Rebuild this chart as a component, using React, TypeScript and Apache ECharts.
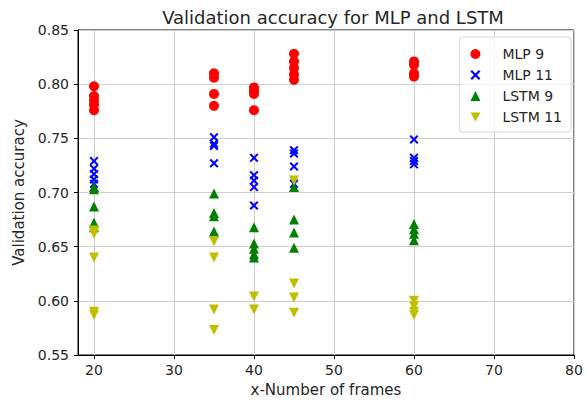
import React, { useEffect, useRef } from "react";
import * as echarts from "echarts";

const frames = [20, 35, 40, 45, 60];
const mlp9: number[][] = [
  [0.798, 0.789, 0.785, 0.776, 0.781],
  [0.81, 0.806, 0.791, 0.78],
  [0.797, 0.794, 0.791, 0.776],
  [0.828, 0.821, 0.815, 0.809, 0.804],
  [0.821, 0.818, 0.81, 0.807],
];
const mlp11: number[][] = [
  [0.729, 0.722, 0.717, 0.712, 0.708],
  [0.751, 0.745, 0.743, 0.727],
  [0.732, 0.716, 0.711, 0.705, 0.688],
  [0.739, 0.736, 0.724, 0.708],
  [0.749, 0.732, 0.729, 0.726],
];
const lstm9: number[][] = [
  [0.705, 0.703, 0.687, 0.672, 0.668],
  [0.699, 0.681, 0.678, 0.664],
  [0.668, 0.653, 0.648, 0.643, 0.64],
  [0.705, 0.675, 0.663, 0.649],
  [0.671, 0.666, 0.662, 0.656],
];
const lstm11: number[][] = [
  [0.665, 0.662, 0.64, 0.59, 0.587],
  [0.655, 0.64, 0.592, 0.573],
  [0.604, 0.592],
  [0.711, 0.616, 0.603, 0.589],
  [0.6, 0.595, 0.59, 0.587],
];
const seriesNames = ["MLP 9", "MLP 11", "LSTM 9", "LSTM 11"];
const yTicks = [0.55, 0.6, 0.65, 0.7, 0.75, 0.8, 0.85];
const xTicks = [20, 30, 40, 50, 60, 70, 80];

const toPoints = (vals: number[][]) =>
  frames.flatMap((f, i) => vals[i].map((v) => [f, v]));

const X_SYMBOL =
  "path://M0,1.6L1.6,0L5,3.4L8.4,0L10,1.6L6.6,5L10,8.4L8.4,10L5,6.6L1.6,10L0,8.4L3.4,5Z";
const DOWN_TRI = "path://M0,0L10,0L5,9Z";
const FONT = "DejaVu Sans";
const TXT = "#262626";

export default function App() {
  const ref = useRef<HTMLDivElement>(null);
  useEffect(() => {
    if (!ref.current) return;
    const chart = echarts.init(ref.current, undefined, { renderer: "svg" });
    const mk = (
      name: string,
      vals: number[][],
      symbol: string,
      size: number,
      color: string
    ) => ({
      name,
      type: "scatter",
      data: toPoints(vals),
      symbol,
      symbolSize: size,
      itemStyle: { color, opacity: 1 },
      emphasis: { disabled: true },
    });
    chart.setOption({
      animation: false,
      textStyle: { fontFamily: FONT },
      title: {
        text: "Validation accuracy for MLP and LSTM",
        left: 328,
        top: 3,
        textAlign: "center",
        textStyle: { fontFamily: FONT, fontSize: 18, fontWeight: "normal", color: TXT },
      },
      grid: {
        left: 78,
        right: 13,
        top: 30,
        bottom: 48,
        show: true,
        borderColor: "#000",
        borderWidth: 1,
        backgroundColor: "#fff",
      },
      legend: {
        orient: "vertical",
        right: 16,
        top: 37,
        itemGap: 7,
        itemWidth: 10,
        itemHeight: 10,
        padding: [10, 9, 8, 11],
        borderColor: "#d6d6d6",
        borderWidth: 1,
        borderRadius: 3,
        backgroundColor: "rgba(255,255,255,0.8)",
        textStyle: { fontFamily: FONT, fontSize: 14, color: TXT, padding: [0, 0, 0, 17], lineHeight: 14 },
        data: seriesNames,
      },
      xAxis: {
        type: "value",
        min: 18,
        max: xTicks[xTicks.length - 1],
        minInterval: 10,
        maxInterval: 10,
        name: "x-Number of frames",
        nameLocation: "middle",
        nameGap: 27,
        nameTextStyle: { fontFamily: FONT, fontSize: 15, color: TXT },
        axisLine: { show: true, lineStyle: { color: "#000" } },
        axisTick: { show: true, length: 4, lineStyle: { color: "#000" } },
        axisLabel: {
          showMinLabel: false,
          fontFamily: FONT,
          fontSize: 14,
          color: TXT,
          margin: 8,
          formatter: (v: number) => (xTicks.includes(v) ? String(v) : ""),
        },
        splitLine: { show: true, lineStyle: { color: "#cfcfcf", width: 1 } },
      },
      yAxis: {
        type: "value",
        min: yTicks[0],
        max: yTicks[yTicks.length - 1],
        interval: 0.05,
        name: "Validation accuracy",
        nameLocation: "middle",
        nameGap: 52,
        nameTextStyle: { fontFamily: FONT, fontSize: 15, color: TXT },
        axisLine: { show: true, lineStyle: { color: "#000" } },
        axisTick: { show: true, length: 4, lineStyle: { color: "#000" } },
        axisLabel: {
          fontFamily: FONT,
          fontSize: 14,
          color: TXT,
          margin: 9,
          formatter: (v: number) => v.toFixed(2),
        },
        splitLine: { show: true, lineStyle: { color: "#cfcfcf", width: 1 } },
      },
      series: [
        mk("MLP 9", mlp9, "circle", 10, "#ff0000"),
        mk("MLP 11", mlp11, X_SYMBOL, 9, "#0000ff"),
        mk("LSTM 9", lstm9, "triangle", 10, "#008000"),
        mk("LSTM 11", lstm11, DOWN_TRI, 10, "#bfbf00"),
      ],
    });
    return () => chart.dispose();
  }, []);
  return (
    <div
      ref={ref}
      style={{ position: "fixed", left: 0, top: 0, width: 587, height: 403, background: "#fff" }}
    />
  );
}
